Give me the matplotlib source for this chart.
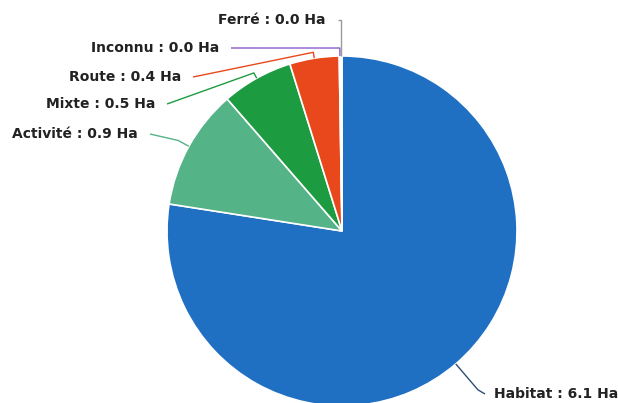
import numpy as np
import matplotlib
matplotlib.use('Agg')
import matplotlib.pyplot as plt

# data =========================================
categories = ['Habitat', 'Activité', 'Mixte', 'Route', 'Inconnu', 'Ferré']
surfaces = [6.12, 0.88, 0.52, 0.36, 0.01, 0.01]   # Ha
colors = ['#1f6fc3', '#55b388', '#1c9b40', '#e8481c', '#8a5cc8', '#9a9a9a']
#===============================================

# layout (pixel coords, y downwards)
W, H = 618, 403
cx, cy, r = 342, 231, 175
bend_extra = [34, 12, 6, 6, 8, 36]
anchors = [(485, 394), (150, 134), (167, 104), (193, 77), (231, 48), (338, 20)]

fig = plt.figure(figsize=(W / 100, H / 100), dpi=100)
ax = fig.add_axes([0, 0, 1, 1])

wedges, _ = ax.pie(surfaces, colors=colors, startangle=90, counterclock=False,
                   center=(cx, H - cy), radius=r,
                   wedgeprops=dict(edgecolor='white', linewidth=1.2))

ax.set_xlim(0, W)
ax.set_ylim(0, H)
ax.set_aspect('equal')
ax.axis('off')

total = sum(surfaces)
start = 0.0
for i, (name, val) in enumerate(zip(categories, surfaces)):
    mid = start + val / total * 360 / 2
    start += val / total * 360
    a = np.radians(mid)
    # pie edge and bend point (clockwise from top)
    ex, ey = cx + r * np.sin(a), cy - r * np.cos(a)
    rb = r + bend_extra[i]
    bx, by = cx + rb * np.sin(a), cy - rb * np.cos(a)
    if name == 'Ferré':
        bx, by = ex, anchors[i][1]
    axx, axy = anchors[i]
    line_col = colors[i] if name != 'Habitat' else '#2d4f73'
    ax.plot([ex, bx, axx], [H - ey, H - by, H - axy], color=line_col, lw=1,
            solid_capstyle='butt')
    label = f'{name} : {round(val, 1):.1f} Ha'
    if axx > cx:
        ax.text(axx + 9, H - axy, label, ha='left', va='center',
                fontsize=10, fontweight='bold', color='#222222')
    else:
        ax.text(axx - 12, H - axy, label, ha='right', va='center',
                fontsize=10, fontweight='bold', color='#222222')

fig.savefig('out.png', dpi=100)
